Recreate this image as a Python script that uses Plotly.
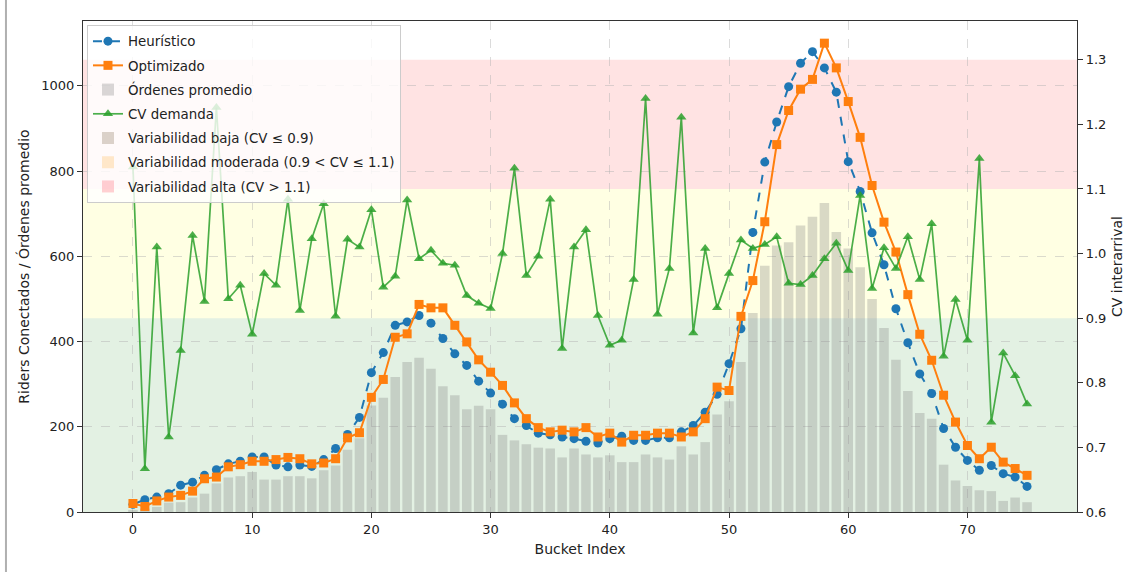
import plotly.graph_objects as go

bucket = list(range(76))

heuristico = [18, 29, 35, 43, 63, 70, 86, 99, 113, 119,
              129, 129, 110, 106, 110, 107, 123, 149, 182, 222,
              327, 374, 438, 446, 461, 443, 407, 371, 344, 307,
              279, 253, 219, 203, 185, 181, 176, 172, 166, 162,
              172, 178, 168, 168, 174, 174, 188, 203, 234, 276,
              348, 430, 656, 821, 915, 998, 1053, 1080, 1042, 985,
              822, 752, 655, 580, 477, 397, 324, 278, 196, 152,
              121, 98, 109, 90, 82, 60]

optimizado = [20, 13, 26, 35, 39, 49, 78, 82, 106, 111,
              119, 119, 123, 128, 125, 113, 115, 125, 174, 186,
              269, 311, 410, 418, 487, 479, 479, 438, 399, 357,
              328, 297, 256, 219, 198, 188, 192, 188, 198, 176,
              185, 164, 180, 180, 185, 185, 176, 188, 219, 293,
              285, 459, 543, 681, 862, 942, 992, 1015, 1100, 1042,
              963, 879, 766, 680, 610, 510, 417, 356, 274, 211,
              156, 125, 152, 117, 102, 86]

ordenes = [5, 8, 12, 22, 23, 34, 43, 67, 81, 84,
           94, 76, 76, 84, 84, 79, 98, 109, 146, 173,
           250, 268, 317, 352, 362, 336, 295, 274, 241, 249,
           241, 181, 168, 159, 151, 149, 128, 149, 135, 128,
           133, 117, 117, 135, 128, 123, 154, 135, 164, 229,
           260, 352, 467, 578, 625, 633, 672, 693, 725, 657,
           618, 574, 500, 432, 357, 284, 232, 219, 111, 74,
           61, 51, 49, 26, 34, 23]

cv_demanda = [1.134, 0.667, 1.010, 0.716, 0.850, 1.028, 0.926, 1.226, 0.930, 0.951,
              0.875, 0.969, 0.951, 1.084, 0.912, 1.023, 1.077, 0.903, 1.022, 1.010,
              1.068, 0.948, 0.965, 1.083, 0.992, 1.005, 0.985, 0.982, 0.935, 0.923,
              0.915, 1.000, 1.132, 0.966, 0.996, 1.084, 0.853, 1.010, 1.037, 0.904,
              0.858, 0.866, 0.960, 1.240, 0.906, 0.977, 1.211, 0.877, 1.008, 0.916,
              0.969, 1.021, 1.008, 1.014, 1.026, 0.954, 0.952, 0.966, 0.992, 1.016,
              0.974, 1.090, 0.946, 1.009, 0.977, 1.026, 0.960, 1.046, 0.841, 0.929,
              0.866, 1.147, 0.739, 0.846, 0.811, 0.767]

# CV bands: (low, high, label, colour)
band_labels = ["Variabilidad baja (CV ≤ 0.9)",
               "Variabilidad moderada (0.9 < CV ≤ 1.1)",
               "Variabilidad alta (CV > 1.1)"]
band_low = [0.6, 0.9, 1.1]
band_high = [0.9, 1.1, 1.3]
band_colors = ["rgba(0,128,0,0.11)", "rgba(255,255,0,0.11)", "rgba(255,0,0,0.11)"]
legend_patch_colors = ["rgba(190,175,160,0.55)", "rgba(255,215,160,0.55)", "rgba(255,150,160,0.45)"]

FONT = "DejaVu Sans"

fig = go.Figure()

fig.add_trace(go.Scatter(
    x=bucket, y=heuristico, name="Heurístico", mode="lines+markers",
    line=dict(color="#1f77b4", width=2, dash="dash"),
    marker=dict(symbol="circle", size=9, color="#1f77b4"),
    legendgroup="g1", yaxis="y"))

fig.add_trace(go.Scatter(
    x=bucket, y=optimizado, name="Optimizado", mode="lines+markers",
    line=dict(color="#ff7f0e", width=2),
    marker=dict(symbol="square", size=9, color="#ff7f0e"),
    legendgroup="g2", yaxis="y"))

fig.add_trace(go.Bar(
    x=bucket, y=ordenes, name="Órdenes promedio", width=0.8,
    marker=dict(color="rgba(128,128,128,0.3)", line=dict(width=0)),
    legendgroup="g3", yaxis="y"))

fig.add_trace(go.Scatter(
    x=bucket, y=cv_demanda, name="CV demanda", mode="lines+markers",
    line=dict(color="rgba(44,160,44,0.85)", width=1.7),
    marker=dict(symbol="triangle-up", size=9, color="rgba(44,160,44,0.85)"),
    legendgroup="g4", yaxis="y2"))

for k, (lab, col) in enumerate(zip(band_labels, legend_patch_colors)):
    fig.add_trace(go.Bar(x=[None], y=[None], name=lab,
                         marker=dict(color=col, line=dict(width=0)),
                         legendgroup="b%d" % k, yaxis="y2", showlegend=True))

shapes = []
for lo, hi, col in zip(band_low, band_high, band_colors):
    shapes.append(dict(type="rect", xref="paper", yref="y2", x0=0, x1=1,
                       y0=lo, y1=hi, fillcolor=col, line=dict(width=0), layer="below"))
# outer frame line on the left edge of the image
shapes.append(dict(type="line", xref="paper", yref="paper", x0=-0.0775, x1=-0.0775,
                   y0=-0.125, y1=1.045, line=dict(color="#b0b0b0", width=2)))

axis_common = dict(
    showline=True, linecolor="#333333", linewidth=1.2,
    ticks="outside", ticklen=5, tickcolor="#333333",
    tickfont=dict(family=FONT, size=13, color="#222222"),
    zeroline=False,
)

GRID = "rgba(176,176,176,0.45)"

fig.update_layout(
    width=1134, height=572,
    margin=dict(l=83, r=52, t=21, b=60),
    paper_bgcolor="white", plot_bgcolor="white",
    barmode="overlay",
    font=dict(family=FONT, color="#222222"),
    shapes=shapes,
    xaxis=dict(
        range=[-4.19, 79.19], tickmode="array", tickvals=[0, 10, 20, 30, 40, 50, 60, 70],
        showgrid=True, gridcolor=GRID, griddash="dash", gridwidth=1,
        mirror=True,
        title=dict(text="Bucket Index", font=dict(family=FONT, size=14), standoff=8),
        **axis_common),
    yaxis=dict(
        range=[0, 1152], tickmode="array", tickvals=[0, 200, 400, 600, 800, 1000],
        showgrid=True, gridcolor=GRID, griddash="dash", gridwidth=1,
        title=dict(text="Riders Conectados / Órdenes promedio", font=dict(family=FONT, size=14), standoff=8),
        **axis_common),
    yaxis2=dict(
        range=[0.6, 1.36], overlaying="y", side="right",
        tickmode="array", tickvals=[0.6, 0.7, 0.8, 0.9, 1.0, 1.1, 1.2, 1.3],
        tickformat=".1f", showgrid=False,
        title=dict(text="CV interarrival", font=dict(family=FONT, size=14), standoff=6),
        **axis_common),
    legend=dict(
        x=0.004, y=0.992, xanchor="left", yanchor="top",
        bgcolor="rgba(255,255,255,0.8)", bordercolor="#cccccc", borderwidth=1,
        font=dict(family=FONT, size=13.4, color="#222222"),
        traceorder="grouped", tracegroupgap=3.8,
    ),
    showlegend=True,
)

fig.write_html("out.html")
